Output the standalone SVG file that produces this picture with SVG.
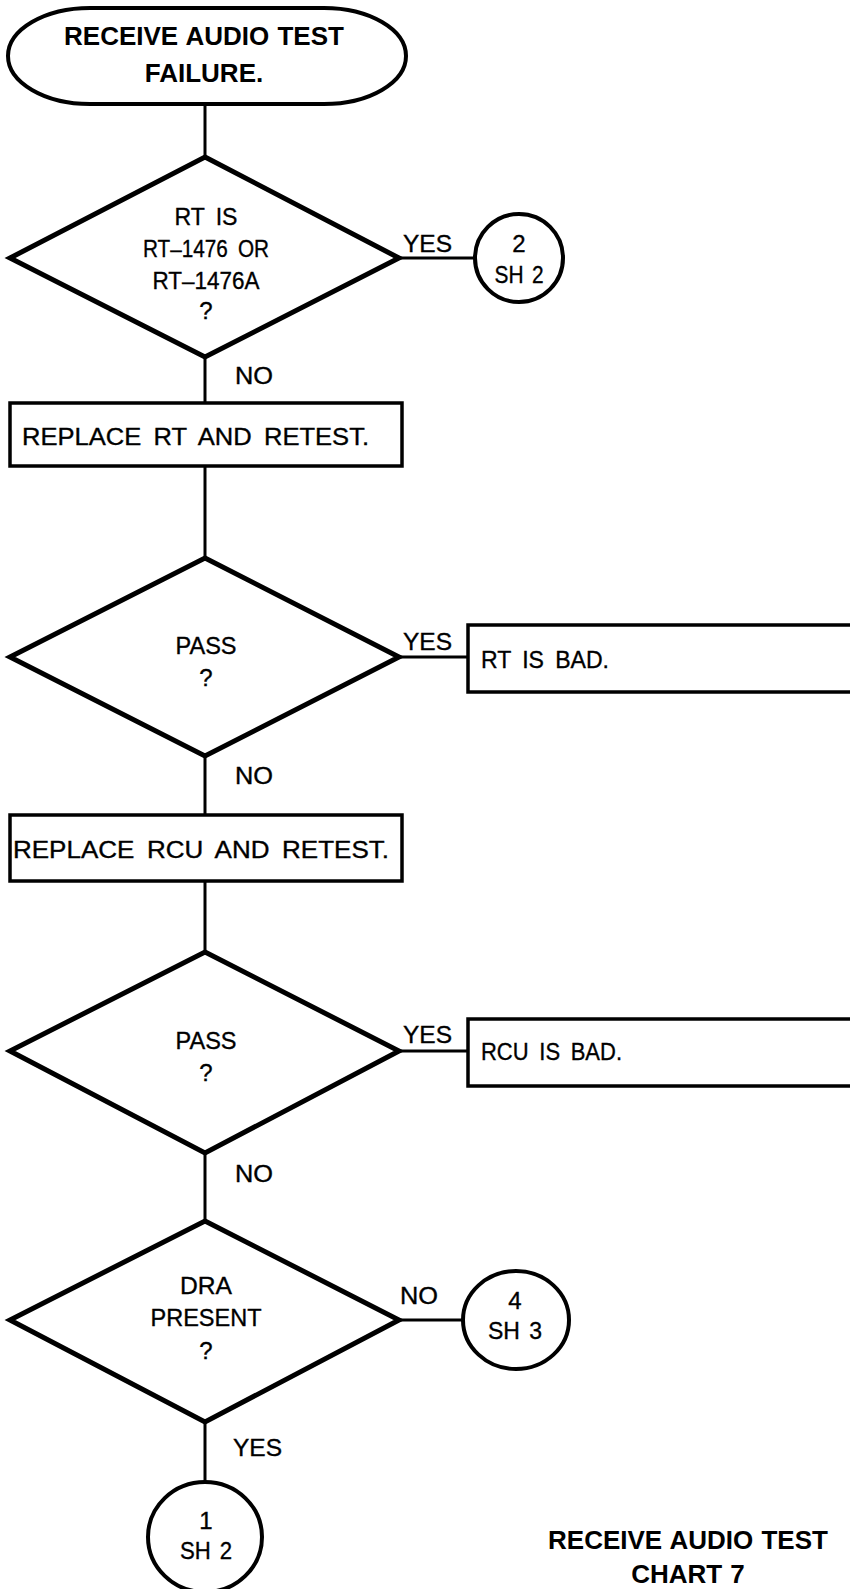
<svg xmlns="http://www.w3.org/2000/svg" width="850" height="1589" viewBox="0 0 850 1589">
<style>
  .bg { fill: #ffffff; }
  .shape { fill: #ffffff; stroke: #000000; stroke-linejoin: miter; }
  .dia { stroke-width: 5; }
  .box { stroke-width: 3.5; }
  .circ { stroke-width: 4; }
  .term { stroke-width: 4; }
  .conn line { stroke: #000000; stroke-width: 3; }
  text { font-family: "Liberation Sans", Arial, Helvetica, sans-serif; fill: #000000; }
  .t { font-size: 24px; word-spacing: 5px; stroke: #000000; stroke-width: 0.35px; }
  .c { word-spacing: 3px; }
  .b { font-size: 26px; font-weight: bold; word-spacing: 1px; }
  .m { text-anchor: middle; }
</style>
<rect class="bg" x="0" y="0" width="850" height="1589"/>

<g id="connectors" class="conn">
  <line x1="205" y1="104" x2="205" y2="157"/>
  <line x1="399" y1="258" x2="475" y2="258"/>
  <line x1="205" y1="357" x2="205" y2="403"/>
  <line x1="205" y1="466" x2="205" y2="558"/>
  <line x1="399" y1="657" x2="468" y2="657"/>
  <line x1="205" y1="756" x2="205" y2="815"/>
  <line x1="205" y1="881" x2="205" y2="952"/>
  <line x1="399" y1="1051" x2="468" y2="1051"/>
  <line x1="205" y1="1153" x2="205" y2="1221"/>
  <line x1="399" y1="1320" x2="463" y2="1320"/>
  <line x1="205" y1="1422" x2="205" y2="1482"/>
</g>

<g id="edge-labels">
  <text class="t" x="403" y="252" textLength="49" lengthAdjust="spacingAndGlyphs">YES</text>
  <text class="t" x="235" y="384" textLength="38" lengthAdjust="spacingAndGlyphs">NO</text>
  <text class="t" x="403" y="650" textLength="49" lengthAdjust="spacingAndGlyphs">YES</text>
  <text class="t" x="235" y="784" textLength="38" lengthAdjust="spacingAndGlyphs">NO</text>
  <text class="t" x="403" y="1043" textLength="49" lengthAdjust="spacingAndGlyphs">YES</text>
  <text class="t" x="235" y="1182" textLength="38" lengthAdjust="spacingAndGlyphs">NO</text>
  <text class="t" x="400" y="1304" textLength="38" lengthAdjust="spacingAndGlyphs">NO</text>
  <text class="t" x="233" y="1456" textLength="49" lengthAdjust="spacingAndGlyphs">YES</text>
</g>

<g id="start">
  <rect class="shape term" x="8" y="8" width="398" height="96" rx="82" ry="48"/>
  <text class="b m" x="204" y="45">RECEIVE AUDIO TEST</text>
  <text class="b m" x="204" y="82">FAILURE.</text>
</g>

<g id="dec-rt-type">
  <polygon class="shape dia" points="205,157 399,258 205,357 10,258"/>
  <text class="t m" x="206" y="225" textLength="63" lengthAdjust="spacingAndGlyphs">RT IS</text>
  <text class="t m" x="206" y="257" textLength="126" lengthAdjust="spacingAndGlyphs">RT–1476 OR</text>
  <text class="t m" x="206" y="289" textLength="107" lengthAdjust="spacingAndGlyphs">RT–1476A</text>
  <text class="t m" x="206" y="319">?</text>
</g>

<g id="conn-2-sh2">
  <ellipse class="shape circ" cx="519" cy="258" rx="44" ry="44"/>
  <text class="t m" x="519" y="252">2</text>
  <text class="t c m" x="519" y="283" textLength="49" lengthAdjust="spacingAndGlyphs">SH 2</text>
</g>

<g id="replace-rt">
  <rect class="shape box" x="10" y="403" width="392" height="63"/>
  <text class="t" x="22" y="445" textLength="347" lengthAdjust="spacingAndGlyphs">REPLACE RT AND RETEST.</text>
</g>

<g id="dec-pass-1">
  <polygon class="shape dia" points="205,558 399,657 205,756 10,657"/>
  <text class="t m" x="206" y="654" textLength="61" lengthAdjust="spacingAndGlyphs">PASS</text>
  <text class="t m" x="206" y="686">?</text>
</g>

<g id="rt-bad">
  <rect class="shape box" x="468" y="625" width="400" height="67"/>
  <text class="t" x="481" y="668" textLength="128" lengthAdjust="spacingAndGlyphs">RT IS BAD.</text>
</g>

<g id="replace-rcu">
  <rect class="shape box" x="10" y="815" width="392" height="66"/>
  <text class="t" x="13" y="858" textLength="376" lengthAdjust="spacingAndGlyphs">REPLACE RCU AND RETEST.</text>
</g>

<g id="dec-pass-2">
  <polygon class="shape dia" points="205,952 399,1051 205,1153 10,1051"/>
  <text class="t m" x="206" y="1049" textLength="61" lengthAdjust="spacingAndGlyphs">PASS</text>
  <text class="t m" x="206" y="1081">?</text>
</g>

<g id="rcu-bad">
  <rect class="shape box" x="468" y="1019" width="400" height="67"/>
  <text class="t" x="481" y="1060" textLength="141" lengthAdjust="spacingAndGlyphs">RCU IS BAD.</text>
</g>

<g id="dec-dra">
  <polygon class="shape dia" points="205,1221 399,1320 205,1422 10,1320"/>
  <text class="t m" x="206" y="1294" textLength="52" lengthAdjust="spacingAndGlyphs">DRA</text>
  <text class="t m" x="206" y="1326" textLength="111" lengthAdjust="spacingAndGlyphs">PRESENT</text>
  <text class="t m" x="206" y="1359">?</text>
</g>

<g id="conn-4-sh3">
  <ellipse class="shape circ" cx="516" cy="1320" rx="53" ry="49"/>
  <text class="t m" x="515" y="1309">4</text>
  <text class="t c m" x="515" y="1339" textLength="54" lengthAdjust="spacingAndGlyphs">SH 3</text>
</g>

<g id="conn-1-sh2">
  <ellipse class="shape circ" cx="205" cy="1537" rx="57" ry="55"/>
  <text class="t m" x="206" y="1529">1</text>
  <text class="t c m" x="206" y="1559" textLength="52" lengthAdjust="spacingAndGlyphs">SH 2</text>
</g>

<g id="title">
  <text class="b m" x="688" y="1549">RECEIVE AUDIO TEST</text>
  <text class="b m" x="688" y="1583">CHART 7</text>
</g>
</svg>
